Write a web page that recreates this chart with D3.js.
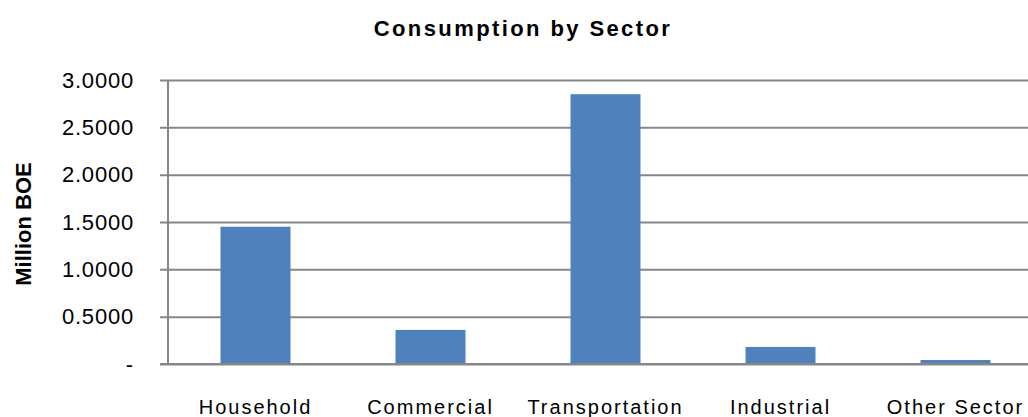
<!DOCTYPE html>
<html>
<head>
<meta charset="utf-8">
<script src="https://cdn.jsdelivr.net/npm/d3@7"></script>
<style>
  html, body { margin: 0; padding: 0; background: #fff; }
  svg { display: block; }
  text { font-family: "Liberation Sans", Arial, sans-serif; fill: #000; }
</style>
</head>
<body>
<svg id="chart" width="1028" height="417"></svg>
<script>
// Energy consumption by sector (million barrels of oil equivalent)
const categories = ["Household", "Commercial", "Transportation", "Industrial", "Other Sector"];
const values = [1.45, 0.36, 2.85, 0.18, 0.042];
const yTicks = [0, 0.5, 1.0, 1.5, 2.0, 2.5, 3.0];

const svg = d3.select("#chart");
const margin = { left: 168, top: 80, bottom: 364 };
const plotRight = margin.left + 175 * 5;

const x = d3.scaleBand()
  .domain(categories)
  .range([margin.left, plotRight])
  .paddingInner(0.6)
  .paddingOuter(0.3);

const y = d3.scaleLinear()
  .domain([0, 3])
  .range([margin.bottom, margin.top]);

const fmt = v => v === 0 ? "-" : d3.format(".4f")(v);

// Horizontal gridlines with short tick stubs to the left of the axis
const yAxis = d3.axisLeft(y)
  .tickValues(yTicks)
  .tickFormat(fmt)
  .tickSize(-(plotRight - margin.left))
  .tickPadding(34);

const gy = svg.append("g")
  .attr("transform", `translate(${margin.left},0)`)
  .call(yAxis);
gy.select(".domain").remove();
gy.selectAll(".tick line")
  .attr("x1", -8)
  .attr("stroke", "#868686")
  .attr("stroke-width", 2);
gy.selectAll(".tick text")
  .style("font-size", "22px")
  .style("letter-spacing", "0.8px")
  .attr("fill", "#000");

// Vertical axis line
svg.append("line")
  .attr("x1", margin.left).attr("x2", margin.left)
  .attr("y1", y(3)).attr("y2", y(0))
  .attr("stroke", "#868686")
  .attr("stroke-width", 2);

// Bars
svg.append("g")
  .selectAll("rect")
  .data(categories.map((c, i) => ({ c, v: values[i] })))
  .join("rect")
  .attr("x", d => x(d.c))
  .attr("width", x.bandwidth())
  .attr("y", d => y(d.v))
  .attr("height", d => y(0) - y(d.v))
  .attr("fill", "#4f81bd");

// Baseline redrawn on top of bars
svg.append("line")
  .attr("x1", margin.left - 8).attr("x2", plotRight)
  .attr("y1", y(0)).attr("y2", y(0))
  .attr("stroke", "#868686")
  .attr("stroke-width", 2);

// Category labels
const xAxis = d3.axisBottom(x).tickSize(0).tickPadding(0);
const gx = svg.append("g")
  .attr("transform", `translate(0,${y(0)})`)
  .call(xAxis);
gx.select(".domain").remove();
gx.selectAll(".tick text")
  .attr("y", 36)
  .attr("dy", "0.71em")
  .style("font-size", "20px")
  .style("letter-spacing", "2px")
  .attr("fill", "#000");

// Title
svg.append("text")
  .attr("x", 523)
  .attr("y", 36)
  .attr("text-anchor", "middle")
  .style("font-size", "22px")
  .style("font-weight", "bold")
  .style("letter-spacing", "2.4px")
  .text("Consumption by Sector");

// Y axis title
svg.append("text")
  .attr("transform", "translate(31,224) rotate(-90)")
  .attr("text-anchor", "middle")
  .style("font-size", "22px")
  .style("font-weight", "bold")
  .text("Million BOE");
</script>
</body>
</html>
